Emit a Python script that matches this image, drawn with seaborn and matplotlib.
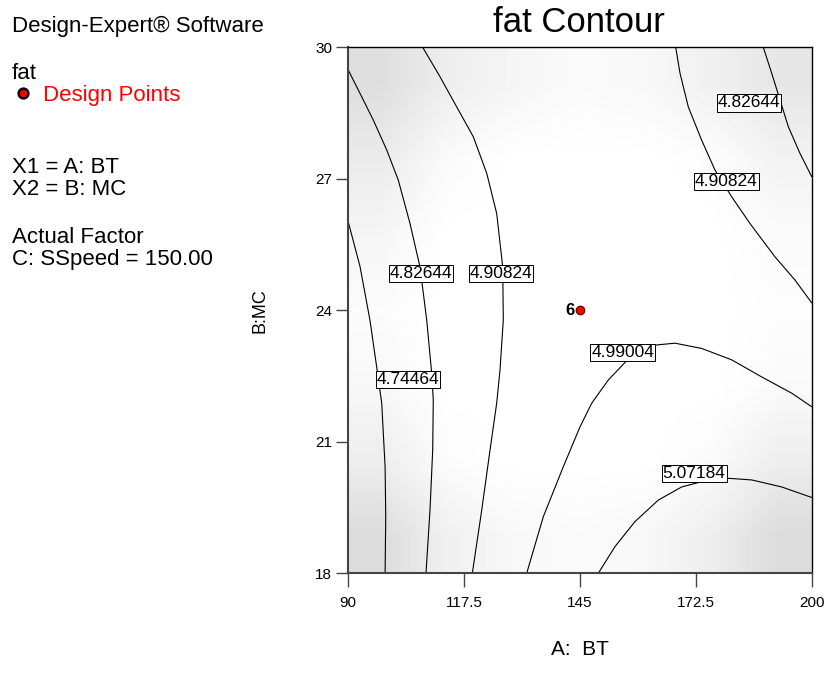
import numpy as np
import pandas as pd
import matplotlib
matplotlib.use("Agg")
import matplotlib.pyplot as plt
import seaborn as sns

sns.set_theme(style="white")
plt.rcParams['font.family'] = ['Liberation Sans', 'DejaVu Sans']
plt.rcParams['text.color'] = 'black'
plt.rcParams['axes.labelcolor'] = 'black'

# Contour paths (x = A: BT, y = B: MC)
c1_bt = [90.0, 92.85, 95.2, 96.8, 98.0, 98.8, 98.95, 98.8]
c1_mc = [26.04, 25.0, 23.78, 22.71, 21.88, 20.43, 19.29, 18.0]

c2_bt = [90.07, 92.85, 96.0, 99.18, 101.93, 104.71, 107.08, 108.67, 109.86, 110.23, 110.09, 109.45, 108.5]
c2_mc = [29.48, 28.95, 28.34, 27.66, 26.97, 25.98, 24.99, 23.78, 22.56, 21.95, 20.81, 19.44, 18.0]

c3_bt = [107.72, 111.82, 115.79, 119.72, 122.9, 125.27, 126.7, 126.84, 126.06, 125.27, 123.69, 121.72, 119.49]
c3_mc = [30.0, 29.33, 28.64, 27.96, 27.13, 26.21, 24.99, 23.78, 22.64, 21.88, 20.81, 19.44, 18.0]

c4_bt = [132.39, 136.33, 141.07, 145.03, 147.81, 151.75, 156.11, 163.23, 167.57, 173.9, 181.02, 188.14, 195.25, 200.0]
c4_mc = [18.0, 19.29, 20.43, 21.34, 21.88, 22.41, 22.85, 23.21, 23.25, 23.13, 22.87, 22.48, 22.11, 21.8]

c5_bt = [149.38, 153.34, 158.08, 163.61, 169.16, 175.47, 179.83, 185.77, 192.88, 200.0]
c5_mc = [18.0, 18.61, 19.18, 19.67, 19.97, 20.13, 20.17, 20.13, 19.97, 19.73]

c6_bt = [167.74, 168.76, 170.73, 173.9, 177.06, 181.02, 185.36, 191.29, 196.04, 200.0]
c6_mc = [30.0, 29.41, 28.64, 27.88, 27.2, 26.59, 25.98, 25.22, 24.69, 24.17]

c7_bt = [188.52, 190.51, 192.48, 194.45, 197.22, 200.0]
c7_mc = [30.0, 29.41, 28.8, 28.19, 27.58, 27.05]

paths = [(4.74464, c1_bt, c1_mc), (4.82644, c2_bt, c2_mc), (4.90824, c3_bt, c3_mc),
         (4.99004, c4_bt, c4_mc), (5.07184, c5_bt, c5_mc), (4.90824, c6_bt, c6_mc),
         (4.82644, c7_bt, c7_mc)]

# contour labels
label_txt = ['4.82644', '4.90824', '4.74464', '4.99004', '5.07184', '4.90824', '4.82644']
label_bt = [107.3, 126.3, 104.2, 155.2, 172.1, 179.7, 185.1]
label_mc = [24.83, 24.83, 22.42, 23.03, 20.28, 26.93, 28.73]

# design point
pt_bt = [145]
pt_mc = [24]
pt_count = ['6']

bt_ticks = [90, 117.5, 145, 172.5, 200]
bt_tick_labels = ['90', '117.5', '145', '172.5', '200']
mc_ticks = [18, 21, 24, 27, 30]
mc_tick_labels = ['18', '21', '24', '27', '30']

# background shading, rows MC = 18, 20 ... 30, cols BT 90 -> 200 in 7 steps
shade = np.array([
    [0.86, 0.94, 0.97, 0.98, 0.97, 0.93, 0.86],
    [0.93, 0.985, 1.0, 1.0, 1.0, 0.98, 0.93],
    [0.97, 1.0, 1.0, 1.0, 1.0, 1.0, 0.98],
    [0.985, 1.0, 1.0, 1.0, 1.0, 1.0, 0.99],
    [0.96, 1.0, 1.0, 1.0, 1.0, 1.0, 0.98],
    [0.92, 0.98, 1.0, 1.0, 1.0, 0.99, 0.95],
    [0.87, 0.93, 0.96, 0.98, 0.97, 0.94, 0.90],
])

rows = []
for i, (lev, bt, mc) in enumerate(paths):
    for b, m in zip(bt, mc):
        rows.append({'seg': i, 'level': lev, 'BT': b, 'MC': m})
df = pd.DataFrame(rows)

fig = plt.figure(figsize=(8.27, 6.86), dpi=100)
ax = fig.add_axes([0.4208, 0.1643, 0.5607, 0.7667])

ax.imshow(shade, cmap='gray', vmin=0, vmax=1, extent=(90, 200, 18, 30), origin='lower',
          aspect='auto', interpolation='bilinear', zorder=0)

sns.lineplot(data=df, x='BT', y='MC', units='seg', estimator=None, sort=False,
             color='black', lw=0.8, ax=ax, legend=False, zorder=2)

for t, b, m in zip(label_txt, label_bt, label_mc):
    ax.text(b, m, t, fontsize=12.5, ha='center', va='center', zorder=4,
            bbox=dict(boxstyle='square,pad=0.06', fc='white', ec='black', lw=0.7))

sns.scatterplot(x=pt_bt, y=pt_mc, color='red', edgecolor='#550000', linewidth=0.8,
                s=38, ax=ax, zorder=5, legend=False)
for b, m, c in zip(pt_bt, pt_mc, pt_count):
    ax.text(b - 1.2, m, c, fontsize=12, fontweight='bold', ha='right', va='center', zorder=5)

ax.set_xlim(90, 200)
ax.set_ylim(18, 30)
ax.set_xticks(bt_ticks)
ax.set_xticklabels(bt_tick_labels)
ax.set_yticks(mc_ticks)
ax.set_yticklabels(mc_tick_labels)
ax.tick_params(axis='x', bottom=True, direction='out', length=10, width=1,
               color='#444444', labelsize=11, pad=6, labelcolor='black')
ax.tick_params(axis='y', left=True, direction='out', length=8.5, width=1,
               color='#444444', labelsize=11, pad=3, labelcolor='black')
for s in ['left', 'bottom']:
    ax.spines[s].set_color('#444444')
    ax.spines[s].set_linewidth(1.5)
for s in ['top', 'right']:
    ax.spines[s].set_color('black')
    ax.spines[s].set_linewidth(1.0)

ax.set_xlabel('A:  BT', fontsize=15)
ax.set_ylabel('B:MC', fontsize=13)
ax.xaxis.set_label_coords(0.5, -0.127)
ax.yaxis.set_label_coords(-0.1725, 0.5)

fig.text(0.70, 0.967, 'fat Contour', fontsize=25, ha='center', va='center')

# side notes
fs = 16
fig.text(0.0145, 1 - 32 / 686, 'Design-Expert\u00ae Software', fontsize=fs, va='baseline')
fig.text(0.0145, 1 - 79 / 686, 'fat', fontsize=fs, va='baseline')
fig.text(0.0145, 1 - 173 / 686, 'X1 = A: BT', fontsize=fs, va='baseline')
fig.text(0.0145, 1 - 195 / 686, 'X2 = B: MC', fontsize=fs, va='baseline')
fig.text(0.0145, 1 - 243 / 686, 'Actual Factor', fontsize=fs, va='baseline')
fig.text(0.0145, 1 - 265 / 686, 'C: SSpeed = 150.00', fontsize=fs, va='baseline')

handle = plt.Line2D([], [], marker='o', ls='none', markersize=7, markerfacecolor='red',
                    markeredgecolor='black', markeredgewidth=1.8)
leg = fig.legend([handle], ['Design Points'], loc='center left',
                 bbox_to_anchor=(12.0 / 827, 1 - 95 / 686), frameon=False, fontsize=fs,
                 borderpad=0, borderaxespad=0, handlelength=0.95, handletextpad=0.45,
                 labelcolor='red')

fig.savefig('out.png', dpi=100)
